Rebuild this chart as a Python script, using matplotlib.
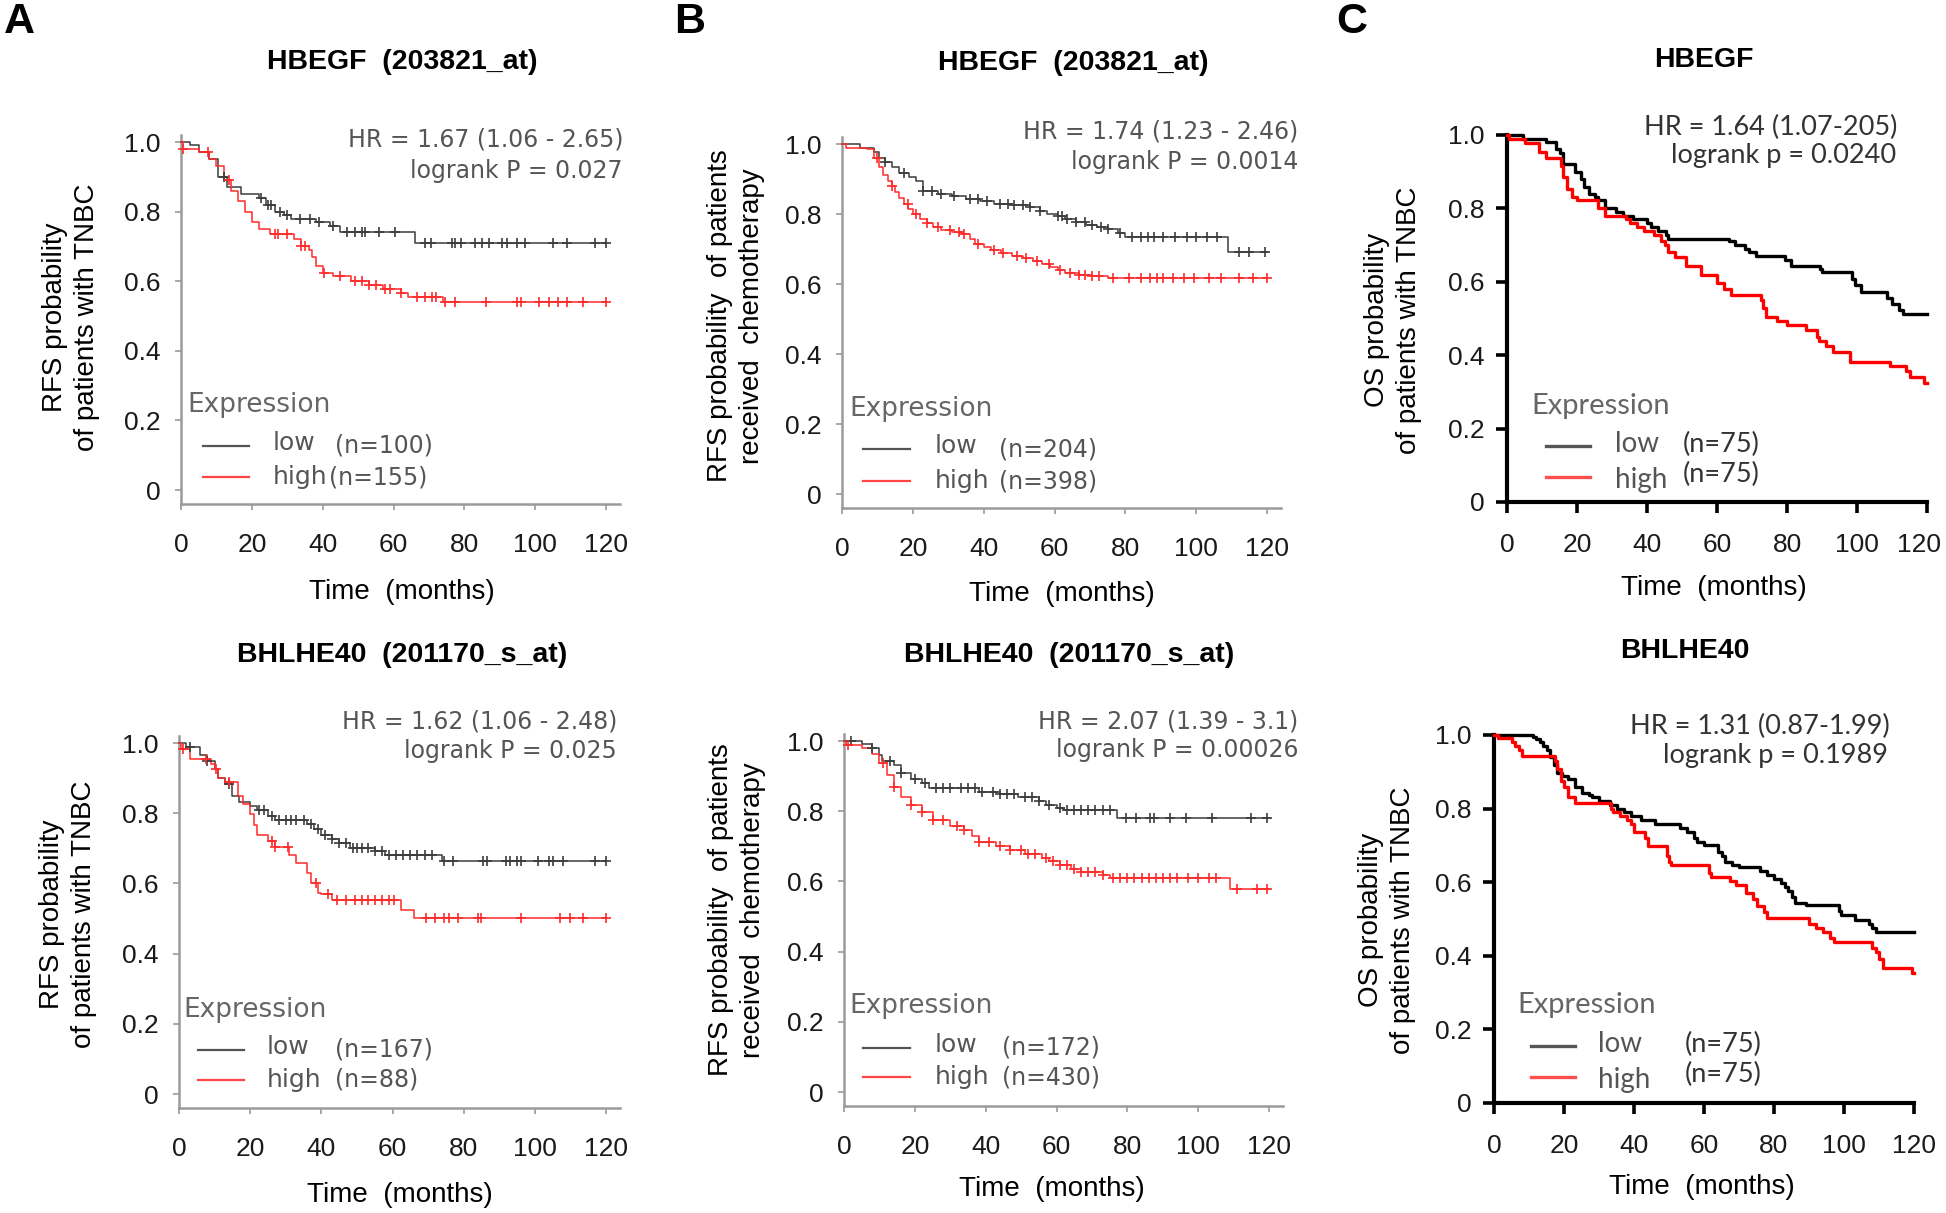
import numpy as np
import matplotlib
matplotlib.use("Agg")
import matplotlib.pyplot as plt
import matplotlib.transforms as mtransforms
from matplotlib.lines import Line2D

plt.rcParams['font.family'] = ['Liberation Sans', 'DejaVu Sans']

W, H = 1946, 1213

# ---- data (time in months, survival probability) ----
x_ticks = [0, 20, 40, 60, 80, 100, 120]
y_ticks = [0, 0.2, 0.4, 0.6, 0.8, 1.0]
y_tick_labels = ['0', '0.2', '0.4', '0.6', '0.8', '1.0']

# A top: HBEGF, RFS TNBC
a1_low_t = [0, 2.5, 5, 8, 10.5, 13, 17, 22, 24, 26.5, 29, 31, 38, 42, 45, 66]
a1_low_s = [1.0, 0.99, 0.97, 0.95, 0.90, 0.87, 0.85, 0.84, 0.82, 0.80, 0.79, 0.78, 0.77, 0.76, 0.74, 0.71]
a1_low_cens = [12, 22.5, 24.5, 25.5, 28, 30, 33.5, 36.5, 39, 43, 47, 49, 51, 52, 56, 60.5, 69, 70.5,
               76.5, 77.5, 79, 83, 85, 87, 90.5, 92, 95, 97, 105, 109, 117, 120]
a1_high_t = [0, 0.5, 5, 8, 10, 12, 14, 16, 18, 20, 22, 25, 32, 34, 36, 37, 38, 40, 43, 48, 53, 57, 62, 64, 74]
a1_high_s = [1.0, 0.98, 0.97, 0.95, 0.93, 0.89, 0.86, 0.83, 0.80, 0.77, 0.75, 0.735, 0.72, 0.70, 0.69, 0.67,
             0.645, 0.625, 0.615, 0.60, 0.59, 0.578, 0.565, 0.555, 0.54]
a1_high_cens = [0.6, 7.5, 13.5, 26.5, 27.5, 30, 34, 35, 40.5, 45, 49, 51, 53, 55, 57.5, 59, 62, 66.5, 69,
                71, 72, 74.5, 77.5, 86, 95, 96, 101, 104, 106.5, 109, 113.5, 120]

# B top: HBEGF, RFS chemotherapy
b1_low_t = [0, 5, 9, 10.5, 12, 14, 16, 19, 21, 23, 27, 31, 35, 39, 43, 48, 53, 56, 58, 61, 63, 66, 69, 72,
            75, 78, 80, 109]
b1_low_s = [1.0, 0.99, 0.978, 0.96, 0.95, 0.935, 0.918, 0.905, 0.895, 0.865, 0.858, 0.852, 0.842, 0.836,
            0.83, 0.825, 0.82, 0.81, 0.80, 0.793, 0.786, 0.776, 0.769, 0.762, 0.756, 0.745, 0.734, 0.692]
b1_low_cens = [12, 17.5, 23, 25.5, 28, 31.5, 36, 38.5, 41, 44.5, 47, 48.5, 51, 53, 56, 61, 62, 63.5, 66,
               68.5, 70.5, 73, 75, 78.5, 82, 84.5, 86.5, 88, 90.5, 94, 97.5, 100, 103, 106, 112, 115, 119.5]
b1_high_t = [0, 1, 7, 9, 10.5, 11.5, 13, 14, 15, 16, 17.5, 18.6, 20, 22, 24, 25.7, 28, 31, 34, 36, 37.5,
             40, 42, 45, 48, 51, 54, 56.5, 58.7, 61, 63, 67, 70.5, 75]
b1_high_s = [1.0, 0.99, 0.985, 0.96, 0.935, 0.912, 0.895, 0.879, 0.862, 0.846, 0.83, 0.813, 0.80, 0.786,
             0.775, 0.764, 0.753, 0.748, 0.742, 0.728, 0.714, 0.706, 0.698, 0.69, 0.681, 0.673, 0.665,
             0.656, 0.648, 0.64, 0.632, 0.626, 0.622, 0.617]
b1_high_cens = [10, 14, 18.5, 21, 24, 27, 30.5, 33, 34.5, 38.5, 43, 45.5, 49.5, 52, 55, 58.5, 61.5, 64.5,
                67, 68.5, 70.5, 72.5, 76.5, 81, 84.5, 87, 89, 90.5, 93.5, 96.5, 99.5, 103.5, 107, 112,
                116, 120]

# C top: HBEGF, OS TNBC
c1_low_t = [0, 4.5, 11, 14, 15, 16, 19.5, 21, 22, 23.5, 25, 26, 28, 31, 33, 36, 40, 41, 43, 45.5, 46,
            63.5, 65, 68, 69, 71, 79.5, 81, 89.5, 90, 98.5, 99.5, 101, 108.5, 110, 112, 113]
c1_low_s = [1.0, 0.99, 0.98, 0.963, 0.95, 0.921, 0.90, 0.88, 0.859, 0.838, 0.83, 0.822, 0.801, 0.79,
            0.78, 0.77, 0.759, 0.75, 0.738, 0.728, 0.717, 0.71, 0.70, 0.69, 0.68, 0.67, 0.66, 0.644,
            0.634, 0.628, 0.607, 0.592, 0.571, 0.555, 0.539, 0.524, 0.513]
c1_high_t = [0, 0.5, 5, 9, 11, 15.5, 16, 17, 18.5, 20, 26, 28, 34, 35, 37, 39, 42, 44, 45, 46, 48, 51,
             55.5, 60, 62, 64, 72.5, 73, 74, 77, 80, 85.5, 88.5, 89, 91, 93, 98, 109.5, 114, 115, 119]
c1_high_s = [1.0, 0.99, 0.979, 0.953, 0.937, 0.916, 0.885, 0.853, 0.832, 0.822, 0.80, 0.78, 0.77, 0.759,
             0.75, 0.738, 0.728, 0.71, 0.70, 0.68, 0.668, 0.644, 0.618, 0.597, 0.581, 0.565, 0.55, 0.529,
             0.503, 0.492, 0.482, 0.468, 0.45, 0.44, 0.426, 0.408, 0.382, 0.37, 0.356, 0.34, 0.325]

# A bottom: BHLHE40, RFS TNBC
a2_low_t = [0, 2, 6, 8, 10, 11, 13, 15, 17, 20, 22, 25, 27, 36, 38, 40, 43, 45, 48, 55, 58, 74]
a2_low_s = [1.0, 0.988, 0.966, 0.95, 0.927, 0.90, 0.882, 0.849, 0.832, 0.821, 0.81, 0.793, 0.782, 0.77,
            0.754, 0.737, 0.726, 0.714, 0.701, 0.692, 0.681, 0.664]
a2_low_cens = [3, 8, 14, 22.5, 24, 26, 28, 30, 31.5, 33, 35, 37, 39, 41, 43, 45, 47, 49, 50, 51.5, 53, 55,
               57, 59, 61, 63, 65, 67, 69, 71, 74.5, 77, 85.5, 86.5, 92, 93, 95, 96, 101, 104, 105, 108,
               117, 120]
a2_high_t = [0, 0.5, 3, 9, 10, 11, 13, 16.5, 18, 20, 21, 22, 25, 27, 31, 33, 36, 37, 39, 40, 43, 62.5, 66]
a2_high_s = [1.0, 0.983, 0.955, 0.94, 0.927, 0.90, 0.888, 0.849, 0.826, 0.798, 0.765, 0.737, 0.72, 0.703,
             0.681, 0.658, 0.63, 0.602, 0.574, 0.569, 0.552, 0.524, 0.502]
a2_high_cens = [1, 7.5, 10.5, 14, 26, 27, 30.5, 38.5, 42, 44.5, 47, 49.5, 51.5, 53, 55, 57, 59, 60.5,
                69.5, 72, 74.5, 76, 78.5, 84, 85, 96, 107, 110, 113.5, 120]

# B bottom: BHLHE40, RFS chemotherapy
b2_low_t = [0, 5, 8, 10, 10.6, 14, 16, 19, 22, 24, 38, 44, 49, 55, 57, 60, 62, 77]
b2_low_s = [1.0, 0.992, 0.981, 0.959, 0.942, 0.931, 0.908, 0.892, 0.88, 0.866, 0.856, 0.849, 0.841,
            0.83, 0.819, 0.808, 0.802, 0.78]
b2_low_cens = [2, 8, 13, 16, 20, 23, 26, 28, 30, 33, 35, 37, 39, 42, 44, 46, 48, 51, 53, 55, 58, 61, 63,
               65, 67, 69, 71, 73, 75, 79.5, 82.5, 86.5, 87.5, 92, 96.5, 104, 115, 119.5]
b2_high_t = [0, 0.5, 5, 8, 10, 12, 14, 16, 19, 22, 25, 30, 34, 36, 38, 43, 47, 51, 56, 58, 61, 64, 67,
             73, 75, 109]
b2_high_s = [1.0, 0.989, 0.98, 0.964, 0.936, 0.903, 0.869, 0.841, 0.819, 0.797, 0.774, 0.758, 0.746,
             0.73, 0.713, 0.702, 0.69, 0.679, 0.668, 0.657, 0.646, 0.635, 0.627, 0.618, 0.609, 0.577]
b2_high_cens = [1, 11, 14, 19, 22, 25, 28, 32, 34, 38, 41, 44, 47, 50, 52, 54, 57, 59, 61, 63, 65, 67,
                69, 71, 73, 76, 78, 80, 82, 84, 86, 88, 90, 92, 94, 97, 100, 103, 105, 111, 116.5, 119.5]

# C bottom: BHLHE40, OS TNBC
c2_low_t = [0, 11, 12, 13, 14, 15, 16, 17, 18, 19.5, 21, 23, 25, 27, 28, 30, 33, 35, 37, 39, 42, 46, 53,
            55, 57, 58, 60, 64, 65, 66, 68, 70, 76, 78, 80, 82, 83, 84, 85, 86, 89, 98.5, 99, 103, 107,
            108, 109]
c2_low_s = [1.0, 0.995, 0.99, 0.982, 0.97, 0.96, 0.939, 0.918, 0.896, 0.888, 0.88, 0.859, 0.843, 0.838,
            0.832, 0.822, 0.811, 0.80, 0.79, 0.779, 0.768, 0.758, 0.748, 0.736, 0.72, 0.71, 0.702, 0.683,
            0.672, 0.656, 0.646, 0.64, 0.63, 0.619, 0.608, 0.598, 0.588, 0.576, 0.56, 0.544, 0.539,
            0.523, 0.512, 0.496, 0.486, 0.476, 0.464]
c2_high_t = [0, 1, 5, 6, 7, 8, 17.5, 18, 19, 20, 21, 23, 33.5, 34, 36, 38, 39, 40, 43, 44, 49.5, 50,
             50.5, 61.5, 62, 67.5, 69, 72, 74, 75, 77, 78, 90, 92, 94, 96, 97, 108, 109, 110, 111, 119.5]
c2_high_s = [1.0, 0.993, 0.982, 0.97, 0.96, 0.944, 0.928, 0.907, 0.875, 0.859, 0.832, 0.816, 0.80, 0.79,
             0.779, 0.768, 0.758, 0.736, 0.72, 0.699, 0.672, 0.656, 0.646, 0.624, 0.614, 0.603, 0.592,
             0.571, 0.555, 0.534, 0.518, 0.502, 0.486, 0.475, 0.464, 0.448, 0.438, 0.422, 0.411, 0.39,
             0.368, 0.352]

GRAY = '#3c3c3c'
RED_KM = '#ff2a2a'
TXT_GRAY = '#555555'

fig = plt.figure(figsize=(W / 100, H / 100), dpi=100)


def fx(x):
    return x / W


def fy(y):
    return 1 - y / H


def T(x, y, s, **kw):
    return fig.text(fx(x), fy(y), s, **kw)


def make_ax(px0, px120, py1, py0, xlim, ylim):
    sx = (px120 - px0) / 120.0
    sy = py0 - py1
    left = px0 + xlim[0] * sx
    right = px0 + xlim[1] * sx
    top = py0 - ylim[1] * sy
    bot = py0 - ylim[0] * sy
    ax = fig.add_axes([fx(left), fy(bot), (right - left) / W, (bot - top) / H])
    ax.set_xlim(*xlim)
    ax.set_ylim(*ylim)
    ax.set_facecolor('none')
    ax.spines['top'].set_visible(False)
    ax.spines['right'].set_visible(False)
    ax.set_xticks(x_ticks)
    ax.set_yticks(y_ticks)
    ax.set_yticklabels(y_tick_labels)
    return ax


def step_curve(ax, t, s, color, lw):
    tt = list(t) + [120]
    ss = list(s) + [s[-1]]
    ax.step(tt, ss, where='post', color=color, lw=lw, clip_on=False, zorder=3)


def censor(ax, t, s, cens, color):
    t = np.array(t)
    s = np.array(s)
    idx = np.searchsorted(t, cens, side='right') - 1
    ax.plot(cens, s[idx], linestyle='none', marker='+', ms=7, mew=1.2, color=color,
            clip_on=False, zorder=4)


def kmplot_panel(pos, low, high, title, title_xy, hr, pval, hr_xy, legend, ylab, ylab_xy, xlab_xy):
    ax = make_ax(*pos, xlim=(0, 124), ylim=(-0.04, 1.02))
    for sp in ('left', 'bottom'):
        ax.spines[sp].set_color('#9a9a9a')
        ax.spines[sp].set_linewidth(1.8)
    ax.tick_params(axis='both', direction='out', length=4, width=1.2, color='#9a9a9a',
                   labelsize=19, labelcolor='#1a1a1a')
    ax.tick_params(axis='x', pad=17)
    ax.tick_params(axis='y', pad=11)
    step_curve(ax, low[0], low[1], GRAY, 1.1)
    step_curve(ax, high[0], high[1], RED_KM, 1.1)
    censor(ax, low[0], low[1], low[2], GRAY)
    censor(ax, high[0], high[1], high[2], RED_KM)
    T(*title_xy, title, ha='center', va='center', fontsize=20.5, fontweight='bold')
    T(hr_xy[0], hr_xy[1], hr, ha='right', va='center', fontsize=17, color=TXT_GRAY,
      family='DejaVu Sans')
    T(hr_xy[0], hr_xy[2], pval, ha='right', va='center', fontsize=17, color=TXT_GRAY,
      family='DejaVu Sans')
    ex, ey, lx0, lx1, ly_low, ly_high, lab_x, n_x, n_low, n_high = legend
    T(ex, ey, 'Expression', ha='left', va='center', fontsize=19, color='#666666', family='DejaVu Sans')
    fig.add_artist(Line2D([fx(lx0), fx(lx1)], [fy(ly_low)] * 2, color='#555555', lw=1.6))
    fig.add_artist(Line2D([fx(lx0), fx(lx1)], [fy(ly_high)] * 2, color='#ff4545', lw=1.6))
    T(lab_x, ly_low - 3, 'low', ha='left', va='center', fontsize=18, color=TXT_GRAY, family='DejaVu Sans')
    T(lab_x, ly_high, 'high', ha='left', va='center', fontsize=18, color=TXT_GRAY, family='DejaVu Sans')
    T(n_x[0], ly_low, n_low, ha='left', va='center', fontsize=17, color=TXT_GRAY, family='DejaVu Sans')
    T(n_x[1], ly_high, n_high, ha='left', va='center', fontsize=17, color=TXT_GRAY, family='DejaVu Sans')
    T(*ylab_xy, ylab, ha='center', va='center', rotation=90, fontsize=20, linespacing=1.3,
      multialignment='center')
    T(*xlab_xy, 'Time  (months)', ha='center', va='center', fontsize=20)
    return ax


def graphpad_panel(pos, low, high, title, title_xy, hr, pval, hr_xy, legend, ylab_xy, xlab_xy):
    ax = make_ax(*pos, xlim=(0, 120), ylim=(0, 1.0))
    for sp in ('left', 'bottom'):
        ax.spines[sp].set_color('black')
        ax.spines[sp].set_linewidth(3.0)
    ax.tick_params(axis='both', direction='out', length=8, width=2.6, color='black',
                   labelsize=19, labelcolor='#1a1a1a')
    ax.tick_params(axis='x', pad=14)
    ax.tick_params(axis='y', pad=8)
    step_curve(ax, low[0], low[1], 'black', 2.4)
    step_curve(ax, high[0], high[1], '#ff0000', 2.4)
    T(*title_xy, title, ha='center', va='center', fontsize=20.5, fontweight='bold')
    T(hr_xy[0], hr_xy[1], hr, ha='right', va='center', fontsize=19.5, color='#333333', family='Lato')
    T(hr_xy[2], hr_xy[3], pval, ha='right', va='center', fontsize=19.5, color='#333333', family='Lato')
    ex, ey, lx0, lx1, ly_low, ly_high, lab_x, n_x = legend
    T(ex, ey, 'Expression', ha='left', va='center', fontsize=21, color='#666666', family='Lato')
    fig.add_artist(Line2D([fx(lx0), fx(lx1)], [fy(ly_low)] * 2, color='#555555', lw=2.4))
    fig.add_artist(Line2D([fx(lx0), fx(lx1)], [fy(ly_high)] * 2, color='#ff5050', lw=2.4))
    T(lab_x, ly_low - 2, 'low', ha='left', va='center', fontsize=20, color='#555555', family='Lato')
    T(lab_x, ly_high + 3, 'high', ha='left', va='center', fontsize=20, color='#555555', family='Lato')
    T(n_x, ly_low - 2, '(n=75)', ha='left', va='center', fontsize=19.5, color='#333333', family='Lato')
    T(n_x, ly_high - 3, '(n=75)', ha='left', va='center', fontsize=19.5, color='#333333', family='Lato')
    T(*ylab_xy, 'OS probability\nof patients with TNBC', ha='center', va='center', rotation=90,
      fontsize=20, linespacing=1.3, multialignment='center')
    T(*xlab_xy, 'Time  (months)', ha='center', va='center', fontsize=20)
    return ax


# ---- panel A ----
kmplot_panel((181, 606, 142, 490), (a1_low_t, a1_low_s, a1_low_cens), (a1_high_t, a1_high_s, a1_high_cens),
             'HBEGF  (203821_at)', (402, 62), 'HR = 1.67 (1.06 - 2.65)', 'logrank P = 0.027',
             (623, 140, 171),
             (187, 405, 203, 249, 446, 477, 273, (335, 329), '(n=100)', '(n=155)'),
             'RFS probability\nof patients with TNBC', (71, 317), (402, 592))
kmplot_panel((179, 606, 743, 1094), (a2_low_t, a2_low_s, a2_low_cens), (a2_high_t, a2_high_s, a2_high_cens),
             'BHLHE40  (201170_s_at)', (402, 655), 'HR = 1.62 (1.06 - 2.48)', 'logrank P = 0.025',
             (617, 722, 751),
             (183, 1010, 198, 244, 1050, 1080, 267, (335, 335), '(n=167)', '(n=88)'),
             'RFS probability\nof patients with TNBC', (68, 914), (400, 1195))

# ---- panel B ----
kmplot_panel((842, 1267, 144, 494), (b1_low_t, b1_low_s, b1_low_cens), (b1_high_t, b1_high_s, b1_high_cens),
             'HBEGF  (203821_at)', (1073, 63), 'HR = 1.74 (1.23 - 2.46)', 'logrank P = 0.0014',
             (1298, 132, 162),
             (849, 409, 863, 910, 449, 481, 935, (999, 999), '(n=204)', '(n=398)'),
             'RFS probability  of patients\nreceived  chemotherapy', (736, 316), (1062, 594))
kmplot_panel((844, 1269, 741, 1092), (b2_low_t, b2_low_s, b2_low_cens), (b2_high_t, b2_high_s, b2_high_cens),
             'BHLHE40  (201170_s_at)', (1069, 655), 'HR = 2.07 (1.39 - 3.1)', 'logrank P = 0.00026',
             (1298, 721, 750),
             (849, 1006, 863, 910, 1048, 1077, 935, (1002, 1002), '(n=172)', '(n=430)'),
             'RFS probability  of patients\nreceived  chemotherapy', (737, 910), (1052, 1189))

# ---- panel C ----
ax_c1 = graphpad_panel((1507, 1927, 135, 502), (c1_low_t, c1_low_s), (c1_high_t, c1_high_s),
                       'HBEGF', (1704, 60), 'HR = 1.64 (1.07-205)', 'logrank p = 0.0240',
                       (1897, 127, 1896, 156),
                       (1531, 406, 1546, 1590, 446, 477, 1615, 1683), (1393, 320), (1714, 588))
graphpad_panel((1494, 1914, 735, 1103), (c2_low_t, c2_low_s), (c2_high_t, c2_high_s),
               'BHLHE40', (1685, 651), 'HR = 1.31 (0.87-1.99)', 'logrank p = 0.1989',
               (1890, 726, 1888, 755),
               (1517, 1005, 1531, 1575, 1046, 1077, 1598, 1685), (1387, 920), (1702, 1187))

# the last tick label of the top right panel sits a little left of its tick
last = ax_c1.get_xticklabels()[-1]
last.set_transform(last.get_transform() +
                   mtransforms.ScaledTranslation(-8 / 100, 0, fig.dpi_scale_trans))

# panel letters
for letter, x in zip(['A', 'B', 'C'], [19, 690, 1352]):
    T(x, 22, letter, ha='center', va='center', fontsize=31, fontweight='bold')

fig.savefig('out.png', dpi=100)
